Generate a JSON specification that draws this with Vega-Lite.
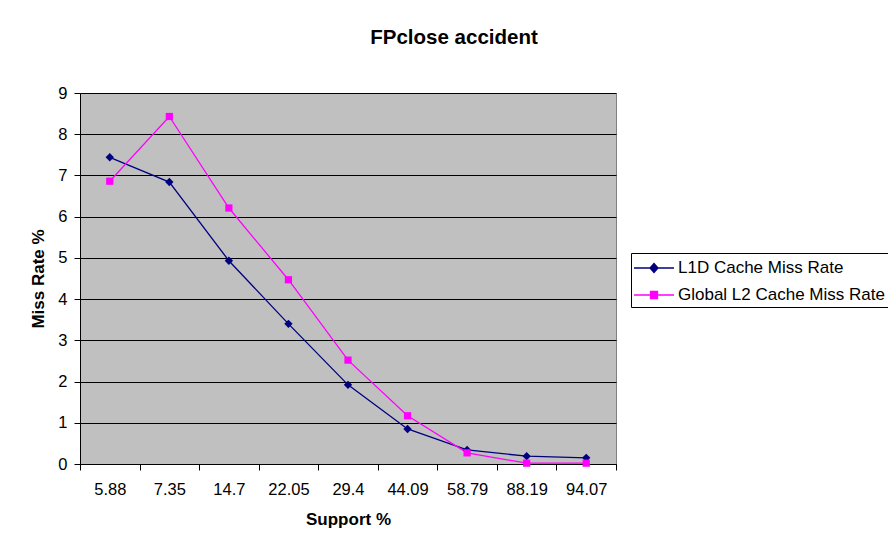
{
  "$schema": "https://vega.github.io/schema/vega-lite/v6.json",
  "autosize": {"type": "none"},
  "width": 536,
  "height": 371,
  "padding": {"left": 80, "top": 93, "right": 272, "bottom": 82},
  "background": "white",
  "title": {
    "text": "FPclose accident",
    "font": "Liberation Sans",
    "fontSize": 20.5,
    "fontWeight": "bold",
    "color": "black",
    "anchor": "middle",
    "baseline": "alphabetic",
    "dx": 106,
    "offset": 21
  },
  "config": {
    "view": {"fill": "#C0C0C0", "stroke": "#808080", "strokeWidth": 1},
    "legend": {
      "title": null,
      "orient": "none",
      "legendX": 551,
      "legendY": 160,
      "padding": 4,
      "strokeColor": "black",
      "fillColor": "white",
      "labelFont": "Liberation Sans",
      "labelFontSize": 17,
      "labelColor": "black",
      "labelLimit": 400,
      "labelOffset": 21,
      "rowPadding": 8,
      "symbolSize": 400,
      "symbolStrokeWidth": 1.3,
      "symbolOpacity": 1
    }
  },
  "data": {
    "values": [
      {"support": "5.88", "series": "L1D Cache Miss Rate", "rate": 7.44},
      {"support": "7.35", "series": "L1D Cache Miss Rate", "rate": 6.84},
      {"support": "14.7", "series": "L1D Cache Miss Rate", "rate": 4.93},
      {"support": "22.05", "series": "L1D Cache Miss Rate", "rate": 3.40},
      {"support": "29.4", "series": "L1D Cache Miss Rate", "rate": 1.92},
      {"support": "44.09", "series": "L1D Cache Miss Rate", "rate": 0.85},
      {"support": "58.79", "series": "L1D Cache Miss Rate", "rate": 0.34},
      {"support": "88.19", "series": "L1D Cache Miss Rate", "rate": 0.19},
      {"support": "94.07", "series": "L1D Cache Miss Rate", "rate": 0.15},
      {"support": "5.88", "series": "Global L2 Cache Miss Rate", "rate": 6.86},
      {"support": "7.35", "series": "Global L2 Cache Miss Rate", "rate": 8.43},
      {"support": "14.7", "series": "Global L2 Cache Miss Rate", "rate": 6.21},
      {"support": "22.05", "series": "Global L2 Cache Miss Rate", "rate": 4.47},
      {"support": "29.4", "series": "Global L2 Cache Miss Rate", "rate": 2.52},
      {"support": "44.09", "series": "Global L2 Cache Miss Rate", "rate": 1.17},
      {"support": "58.79", "series": "Global L2 Cache Miss Rate", "rate": 0.27},
      {"support": "88.19", "series": "Global L2 Cache Miss Rate", "rate": 0.02},
      {"support": "94.07", "series": "Global L2 Cache Miss Rate", "rate": 0.02}
    ]
  },
  "encoding": {
    "x": {
      "field": "support",
      "type": "nominal",
      "sort": null,
      "scale": {"type": "band", "paddingInner": 0, "paddingOuter": 0},
      "axis": {
        "title": "Support %",
        "titleFont": "Liberation Sans",
        "titleFontSize": 17,
        "titleFontWeight": "bold",
        "titleColor": "black",
        "titlePadding": 14,
        "labelFont": "Liberation Sans",
        "labelFontSize": 16.5,
        "labelColor": "black",
        "labelAngle": 0,
        "labelPadding": 11,
        "tickBand": "extent",
        "tickSize": 6,
        "tickColor": "black",
        "domainColor": "black",
        "grid": false
      }
    },
    "y": {
      "field": "rate",
      "type": "quantitative",
      "scale": {"domain": [0, 9], "nice": false},
      "axis": {
        "title": "Miss Rate %",
        "titleFont": "Liberation Sans",
        "titleFontSize": 17,
        "titleFontWeight": "bold",
        "titleColor": "black",
        "titlePadding": 10,
        "values": [0, 1, 2, 3, 4, 5, 6, 7, 8, 9],
        "labelFont": "Liberation Sans",
        "labelFontSize": 16.5,
        "labelColor": "black",
        "labelPadding": 7,
        "tickSize": 6,
        "tickColor": "black",
        "domainColor": "black",
        "grid": true,
        "gridColor": "black",
        "gridOpacity": 1,
        "gridWidth": 1
      }
    }
  },
  "layer": [
    {
      "mark": {"type": "line", "strokeWidth": 1.3},
      "encoding": {
        "color": {
          "field": "series",
          "type": "nominal",
          "scale": {
            "domain": ["L1D Cache Miss Rate", "Global L2 Cache Miss Rate"],
            "range": ["#000080", "#FF00FF"]
          },
          "legend": null
        }
      }
    },
    {
      "mark": {"type": "point", "filled": true, "opacity": 1},
      "encoding": {
        "color": {
          "field": "series",
          "type": "nominal",
          "legend": null
        },
        "shape": {
          "field": "series",
          "type": "nominal",
          "scale": {
            "domain": ["L1D Cache Miss Rate", "Global L2 Cache Miss Rate"],
            "range": ["diamond", "square"]
          },
          "legend": null
        },
        "size": {
          "field": "series",
          "type": "nominal",
          "scale": {
            "domain": ["L1D Cache Miss Rate", "Global L2 Cache Miss Rate"],
            "range": [70, 52]
          },
          "legend": null
        }
      }
    },
    {
      "mark": {"type": "point", "filled": true, "opacity": 0},
      "encoding": {
        "fill": {
          "field": "series",
          "type": "nominal",
          "scale": {
            "domain": ["L1D Cache Miss Rate", "Global L2 Cache Miss Rate"],
            "range": ["#000080", "#FF00FF"]
          },
          "legend": {}
        },
        "stroke": {
          "field": "series",
          "type": "nominal",
          "scale": {
            "domain": ["L1D Cache Miss Rate", "Global L2 Cache Miss Rate"],
            "range": ["#000080", "#FF00FF"]
          },
          "legend": {}
        },
        "shape": {
          "field": "series",
          "type": "nominal",
          "scale": {
            "domain": ["L1D Cache Miss Rate", "Global L2 Cache Miss Rate"],
            "range": [
              "M-1.2,0H2.8M0.8,-0.45L1.2,0L0.8,0.45L0.4,0Z",
              "M-1.2,0H2.8M0.45,-0.35H1.15V0.35H0.45Z"
            ]
          },
          "legend": {}
        }
      }
    }
  ],
  "resolve": {
    "scale": {"shape": "independent", "fill": "independent", "stroke": "independent"}
  }
}
